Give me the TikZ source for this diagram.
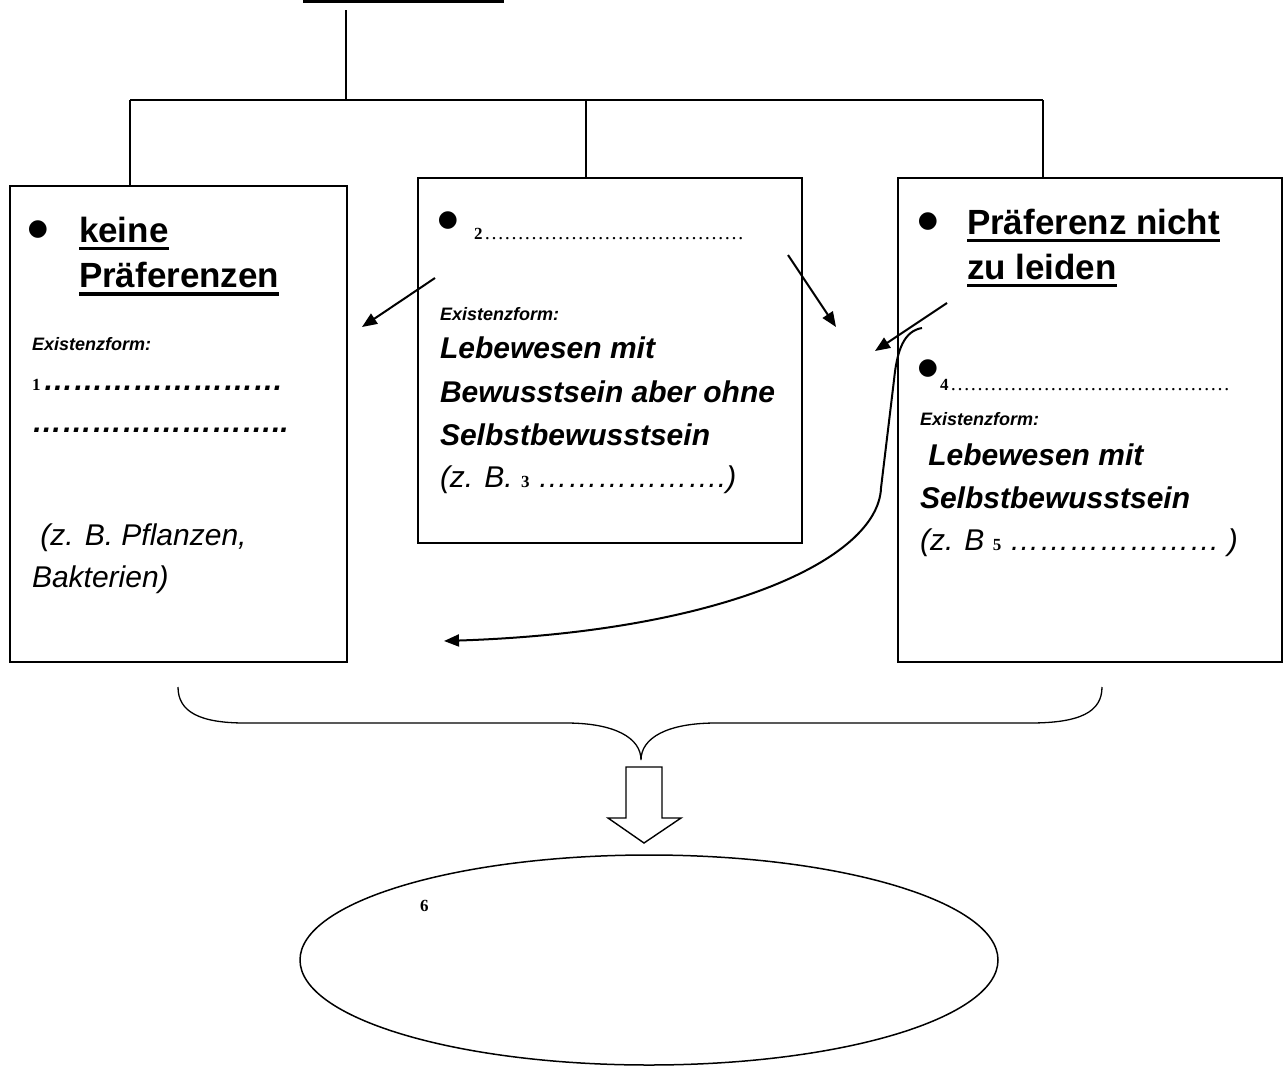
\documentclass[tikz,border=0pt]{standalone}
\usepackage{fontspec}
\setmainfont{Liberation Sans}
\newfontfamily\srf{Liberation Serif}
\newfontfamily\dvs{DejaVu Sans}
\usetikzlibrary{arrows.meta,shapes.geometric}
\newcommand{\digit}[1]{{\srf\upshape\bfseries\fontsize{17}{19}\selectfont #1}}
\begin{document}
\begin{tikzpicture}[x=1pt,y=-1pt,
  box/.style={draw, line width=1.5pt, inner sep=0pt},
  conn/.style={line width=1.5pt},
  arr/.style={line width=2pt, -{Triangle[length=15pt,width=12pt]}},
  tx/.style={anchor=base west, inner sep=0pt, outer sep=0pt},
  big/.style={tx, font=\fontsize{35}{42}\selectfont\bfseries},
  lab/.style={tx, font=\fontsize{18}{22}\selectfont\bfseries\itshape},
  bi/.style={tx, font=\fontsize{30}{36}\selectfont\bfseries\itshape},
  it/.style={tx, font=\fontsize{30}{36}\selectfont\itshape},
  sm/.style={tx, font=\srf\bfseries\fontsize{17}{19}\selectfont},
  bul/.style={inner sep=0pt, font=\dvs\fontsize{23}{23}\selectfont},
  ul/.style={line width=3.5pt}]
\useasboundingbox (0,0) rectangle (1285,1068);

% top (cut-off) underline
\draw[line width=3pt] (303,1.5) -- (504,1.5);

% boxes
\node[box, minimum width=337pt, minimum height=476pt] (lb) at (178.5,424) {};
\node[box, minimum width=384pt, minimum height=365pt] (mb) at (610,360.5) {};
\node[box, minimum width=384pt, minimum height=484pt] (rb) at (1090,420) {};

% tree connectors
\coordinate (top) at (346,10);
\coordinate (j) at (346,100);
\coordinate (hl) at (130,100);
\coordinate (hm) at (586,100);
\coordinate (hr) at (1043,100);
\draw[conn] (top) -- (j);
\draw[conn] (hl) -- (hr);
\draw[conn] (hl) -- (hl |- lb.north);
\draw[conn] (hm) -- (hm |- mb.north);
\draw[conn] (hr) -- (hr |- rb.north);

% left box text
\node[bul] (lbul) at (38,230) {●};
\node[big] (k1) at (79,242) {keine};
\node[big] (k2) at (79,287) {Präferenzen};
\draw[ul] ([yshift=-6.5pt]k1.base west) -- ([yshift=-6.5pt]k1.base east);
\draw[ul] ([yshift=-7pt]k2.base west) -- ([yshift=-7pt]k2.base east);
\node[lab] (le) at (32,350) {Existenzform:};
\node[tx] (l1) at (32,390) {\digit{1} {\fontsize{30}{36}\selectfont\bfseries\itshape ……………………}};
\node[bi] (l2) at (32,432) {……………………..};
\node[it] (l3) at (32,545) {\ (z. B. Pflanzen,};
\node[it] (l4) at (32,587) {Bakterien)};

% middle box text
\node[bul] (mbul) at (448,221) {●};
\node[tx] (m2) at (474,239) {\digit{2}\,{\srf\fontsize{20}{22}\selectfont …………………………………}};
\node[lab] (me) at (440,320) {Existenzform:};
\node[bi] (m3) at (440,358) {Lebewesen mit};
\node[bi] (m4) at (440,402) {Bewusstsein aber ohne};
\node[bi] (m5) at (440,445) {Selbstbewusstsein};
\node[it] (m6) at (440,487) {(z. B. \digit{3} ……………….)};

% right box text
\node[bul] (rbul) at (928,222) {●};
\node[big] (p1) at (967,234) {Präferenz nicht};
\node[big] (p2) at (967,279) {zu leiden};
\draw[ul] ([yshift=-6.5pt]p1.base west) -- ([yshift=-6.5pt]p1.base east);
\draw[ul] ([yshift=-6.5pt]p2.base west) -- ([yshift=-6.5pt]p2.base east);
\node[bul] (rbul2) at (928,369) {●};
\node[tx] (r4) at (940,390) {\digit{4}\,{\srf\fontsize{20}{22}\selectfont ……………………………………}};
\node[lab] (re) at (920,425) {Existenzform:};
\node[bi] (r3) at (920,465) {\ Lebewesen mit};
\node[bi] (r4b) at (920,508) {Selbstbewusstsein};
\node[it] (r5) at (920,550) {(z. B \digit{5} ………………… )};

% arrows
\coordinate (a1s) at (435,278); \coordinate (a1e) at (362,327);
\coordinate (a2s) at (788,255); \coordinate (a2e) at (836,327);
\coordinate (a3s) at (947,303); \coordinate (a3e) at (875,351);
\coordinate (a4s) at (922,328); \coordinate (a4e) at (444,641);
\draw[arr] (a1s) -- (a1e);
\draw[arr] (a2s) -- (a2e);
\draw[arr] (a3s) -- (a3e);
\draw[arr] (a4s) .. controls (904,331) and (897,350) .. (894,380)
  -- (881,488) .. controls (878,560) and (720,632) .. (a4e);

% brace
\coordinate (bl) at (178,687);
\coordinate (br) at (1102,687);
\coordinate (bt) at (641,760);
\draw[line width=1.3pt] (bl) .. controls (178,712) and (200,723) .. (245,723)
  -- (566,723) .. controls (615,723) and (641,738) .. (bt)
  .. controls (641,738) and (667,723) .. (716,723)
  -- (1030,723) .. controls (1080,723) and (1102,712) .. (br);

% block arrow
\draw[line width=1.4pt] (626,767) -- (662,767) -- (662,818) -- (681,818)
  -- (644,843) -- (608,818) -- (626,818) -- cycle;

% ellipse
\node[draw, ellipse, line width=1.5pt, minimum width=698pt, minimum height=210pt, inner sep=0pt] (ell) at (649,960) {};
\node[sm] (six) at (420,911) {6};
\end{tikzpicture}
\end{document}
